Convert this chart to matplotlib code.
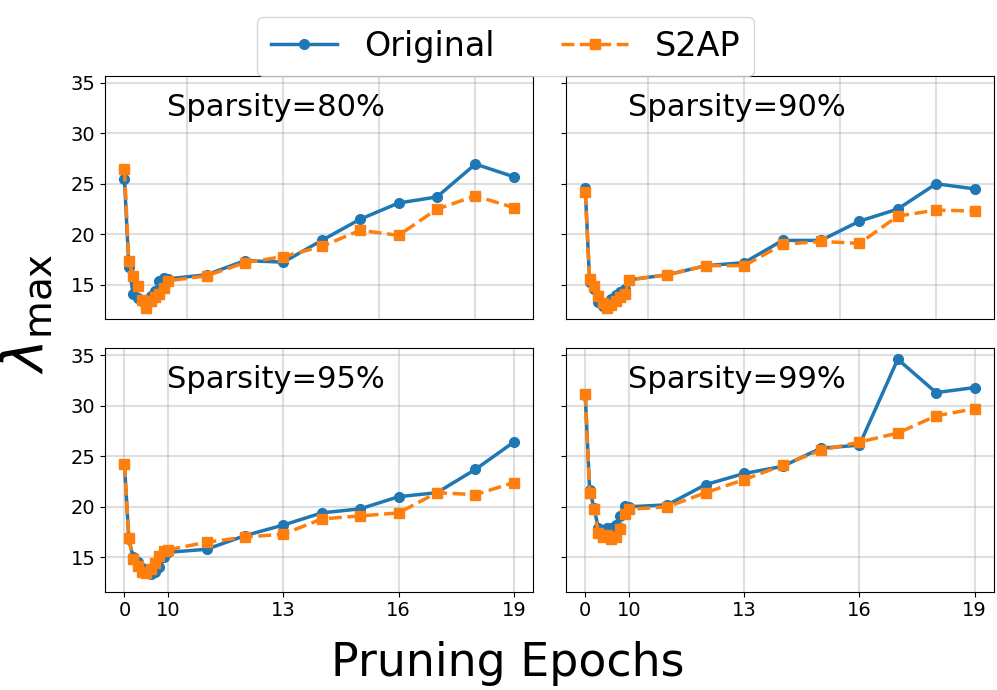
import numpy as np
import matplotlib
matplotlib.use('Agg')
import matplotlib.pyplot as plt

# epochs 0..10 are squeezed into a small stretch of the x axis
epochs = list(range(20))
tick_epochs = [0, 10, 13, 16, 19]
top_grid = [10.5, 13, 15.5, 18]
titles = ['Sparsity=80%', 'Sparsity=90%', 'Sparsity=95%', 'Sparsity=99%']

orig_80 = [25.5, 16.8, 14.1, 13.7, 13.4, 13.5, 13.9, 14.4, 15.4, 15.7, 15.6,
           16.0, 17.4, 17.25, 19.4, 21.5, 23.1, 23.7, 26.95, 25.7]
s2ap_80 = [26.5, 17.35, 15.85, 14.9, 13.55, 12.7, 13.4, 13.8, 14.1, 14.7, 15.4,
           15.9, 17.2, 17.8, 18.8, 20.4, 19.9, 22.5, 23.8, 22.65]

orig_90 = [24.6, 15.3, 14.6, 13.3, 12.9, 13.2, 13.6, 14.0, 14.3, 14.6, 15.5,
           16.0, 16.9, 17.2, 19.4, 19.4, 21.3, 22.5, 25.0, 24.5]
s2ap_90 = [24.15, 15.55, 14.9, 13.9, 13.2, 12.7, 13.0, 13.4, 13.8, 14.05, 15.5,
           16.0, 16.9, 16.9, 19.0, 19.3, 19.1, 21.8, 22.4, 22.3]

orig_95 = [24.2, 16.8, 15.0, 14.5, 13.9, 13.5, 13.4, 13.6, 14.0, 15.0, 15.5,
           15.8, 17.15, 18.2, 19.4, 19.8, 21.0, 21.4, 23.7, 26.4]
s2ap_95 = [24.2, 16.9, 14.8, 14.1, 13.6, 13.45, 13.8, 14.45, 15.1, 15.6, 15.75,
           16.5, 17.0, 17.3, 18.8, 19.1, 19.4, 21.4, 21.2, 22.4]

orig_99 = [31.1, 21.7, 19.9, 17.9, 17.3, 17.9, 17.9, 18.25, 19.1, 20.1, 20.0,
           20.2, 22.2, 23.3, 24.0, 25.8, 26.1, 34.6, 31.3, 31.8]
s2ap_99 = [31.2, 21.4, 19.75, 17.4, 17.0, 17.25, 16.8, 17.0, 17.8, 19.3, 19.75,
           20.0, 21.4, 22.7, 24.1, 25.6, 26.4, 27.3, 29.0, 29.7]

originals = [orig_80, orig_90, orig_95, orig_99]
s2aps = [s2ap_80, s2ap_90, s2ap_95, s2ap_99]

K = 0.114  # width of one early epoch relative to a later one


def forward(x):
    x = np.asarray(x, dtype=float)
    return np.where(x <= 10, x * K, 10 * K + (x - 10))


def inverse(u):
    u = np.asarray(u, dtype=float)
    return np.where(u <= 10 * K, u / K, u - 10 * K + 10)


fig, axes = plt.subplots(2, 2, figsize=(9.97, 6.9), dpi=100, sharey=True)
fig.subplots_adjust(left=0.1053, right=0.997, top=0.8903, bottom=0.1425,
                    wspace=0.076, hspace=0.119)

for i, ax in enumerate(axes.flat):
    ax.set_xscale('function', functions=(forward, inverse))
    l1, = ax.plot(epochs, originals[i], '-o', color='#1f77b4', lw=2.5, ms=7, label='Original')
    l2, = ax.plot(epochs, s2aps[i], '--s', color='#ff7f0e', lw=2.5, ms=7, label='S2AP')
    ax.grid(True, alpha=0.4, lw=1.5)
    ax.text(0.145, 0.87, titles[i], transform=ax.transAxes, fontsize=22, va='center')
    ax.tick_params(labelsize=14)
    if i < 2:
        ax.set_xticks(top_grid)
        ax.tick_params(axis='x', bottom=False, labelbottom=False)
    else:
        ax.set_xticks(tick_epochs)
        ax.set_xticklabels([str(t) for t in tick_epochs])
    span = float(forward(19))
    ax.set_xlim(inverse(-0.05 * span), inverse(1.05 * span))

axes[0, 0].set_yticks([15, 20, 25, 30, 35])

fig.legend([l1, l2], ['Original', 'S2AP'], loc='upper center', ncol=2,
           bbox_to_anchor=(0.507, 1.0), fontsize=24)
fig.text(0.509, 0.039, 'Pruning Epochs', ha='center', va='center', fontsize=33)
fig.text(0.027, 0.545, r'$\lambda_{\max}$', rotation=90, ha='center', va='center', fontsize=40)

plt.savefig('out.png', dpi=100)
